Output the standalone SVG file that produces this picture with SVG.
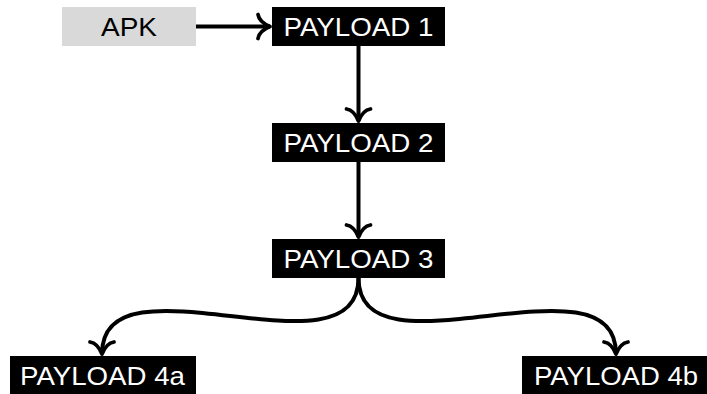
<svg xmlns="http://www.w3.org/2000/svg" width="707" height="394" viewBox="0 0 707 394">
  <style>
    .box { fill: #000000; }
    .apk { fill: #d9d9d9; }
    .lbl { font-family: "Liberation Sans", "DejaVu Sans", sans-serif; font-size: 26px; text-anchor: middle; fill: #ffffff; }
    .lbl-dark { fill: #000000; }
    .edge { fill: none; stroke: #000000; stroke-width: 4; }
  </style>
  <defs>
    <marker id="to" markerUnits="userSpaceOnUse" markerWidth="40" markerHeight="40" viewBox="-20 -20 40 40" refX="0" refY="0" orient="auto" overflow="visible">
      <path d="M -12,-12 C -11,-6 -5,-2 0,0 C -5,2 -11,6 -12,12" fill="none" stroke="#000000" stroke-width="3.8" stroke-linecap="round" stroke-linejoin="round"/>
    </marker>
  </defs>
  <g id="connectors">
    <path class="edge" d="M 196,26.5 L 270,26.5" marker-end="url(#to)"/>
    <path class="edge" d="M 358.5,46 L 358.5,121" marker-end="url(#to)"/>
    <path class="edge" d="M 358.5,162 L 358.5,237" marker-end="url(#to)"/>
    <path class="edge" d="M 358.5,278 C 358.5,383 102,249 102,354" marker-end="url(#to)"/>
    <path class="edge" d="M 358.5,278 C 358.5,383 616,249 616,354" marker-end="url(#to)"/>
  </g>
  <g id="apk">
    <rect class="apk" x="62" y="7" width="134" height="39"/>
    <text class="lbl lbl-dark" x="129" y="35.5" textLength="56" lengthAdjust="spacingAndGlyphs">APK</text>
  </g>
  <g id="payload1">
    <rect class="box" x="272" y="7" width="173" height="39"/>
    <text class="lbl" x="358.5" y="35.5" textLength="150" lengthAdjust="spacingAndGlyphs">PAYLOAD 1</text>
  </g>
  <g id="payload2">
    <rect class="box" x="272" y="123" width="173" height="39"/>
    <text class="lbl" x="358.5" y="151.5" textLength="150" lengthAdjust="spacingAndGlyphs">PAYLOAD 2</text>
  </g>
  <g id="payload3">
    <rect class="box" x="272" y="239" width="173" height="39"/>
    <text class="lbl" x="358.5" y="267.5" textLength="150" lengthAdjust="spacingAndGlyphs">PAYLOAD 3</text>
  </g>
  <g id="payload4a">
    <rect class="box" x="10" y="356" width="186" height="39"/>
    <text class="lbl" x="102.5" y="384.5" textLength="165" lengthAdjust="spacingAndGlyphs">PAYLOAD 4a</text>
  </g>
  <g id="payload4b">
    <rect class="box" x="522" y="356" width="188" height="39"/>
    <text class="lbl" x="616" y="384.5" textLength="164" lengthAdjust="spacingAndGlyphs">PAYLOAD 4b</text>
  </g>
</svg>
